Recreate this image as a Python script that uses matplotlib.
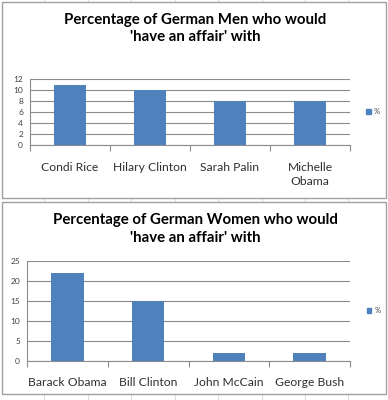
import matplotlib
matplotlib.use("Agg")
import matplotlib.pyplot as plt
from matplotlib.patches import Rectangle, Patch

men_names = ["Condi Rice", "Hilary Clinton", "Sarah Palin", "Michelle\nObama"]
men_pct = [11, 10, 8, 8]
women_names = ["Barack Obama", "Bill Clinton", "John McCain", "George Bush"]
women_pct = [22, 15, 2, 2]

W, H = 388, 400
BAR = "#4F81BD"
GRID = "#8C8C8C"

plt.rcParams['font.family'] = ['Lato', 'DejaVu Sans']

fig = plt.figure(figsize=(W / 100, H / 100), dpi=100)
fig.patch.set_facecolor("white")


def fx(x):
    return x / W


def fy(y):
    return 1 - y / H


# spreadsheet grid peeking out behind the chart panels
for x in [43.5, 87.5, 131, 175, 218, 262, 305, 348]:
    fig.add_artist(plt.Line2D([fx(x), fx(x)], [0, 1], color="#DADCDD", lw=0.8, zorder=-3))
for (x0, y0, x1, y1) in [(2, 2, 386, 197.5), (2, 201.5, 386, 394)]:
    fig.add_artist(Rectangle((fx(x0), fy(y1)), fx(x1) - fx(x0), fy(y0) - fy(y1),
                             facecolor="white", edgecolor="#A0A0A0", lw=1.0, zorder=-2))


def draw_chart(rect, names, vals, ymax, step, title, ty):
    left, top, right, bottom = rect
    ax = fig.add_axes([fx(left), fy(bottom), fx(right) - fx(left), fy(top) - fy(bottom)])
    ax.patch.set_alpha(0)
    ax.bar(range(len(vals)), vals, width=0.4, color=BAR, zorder=3, label="%")
    ax.set_xlim(-0.5, len(vals) - 0.5)
    ax.set_ylim(0, ymax)
    ax.set_yticks(range(0, ymax + 1, step))
    ax.yaxis.grid(True, color=GRID, lw=0.8)
    ax.set_axisbelow(True)
    for s in ["top", "right"]:
        ax.spines[s].set_visible(False)
    for s in ["left", "bottom"]:
        ax.spines[s].set_color(GRID)
        ax.spines[s].set_linewidth(0.8)
    ax.set_xticks([i - 0.5 for i in range(len(vals) + 1)])
    ax.set_xticklabels([])
    ax.set_xticks(range(len(vals)), minor=True)
    ax.set_xticklabels(names, minor=True, fontsize=8.7, color="#303030", linespacing=1.4)
    ax.tick_params(axis="x", which="major", length=4, color=GRID, direction="out")
    ax.tick_params(axis="x", which="minor", length=0, pad=12)
    ax.tick_params(axis="y", length=0, labelsize=6, labelcolor="#404040", pad=5)
    ax.legend(handles=[Patch(color=BAR, label="%")], loc="center left",
              bbox_to_anchor=(1.03, 0.5), frameon=False, fontsize=5.5,
              handlelength=0.6, handleheight=0.6, handletextpad=0.4,
              labelcolor="#404040")
    fig.text(fx(195), fy(ty), title, ha="center", va="center",
             fontsize=10.8, fontweight="bold", linespacing=1.3)
    return ax


draw_chart((30, 79, 350, 145), men_names, men_pct, 12, 2,
           "Percentage of German Men who would\n'have an affair' with", 28.5)
draw_chart((27, 260.7, 350, 360.7), women_names, women_pct, 25, 5,
           "Percentage of German Women who would\n'have an affair' with", 229)

fig.savefig("out.png", dpi=100, facecolor=fig.get_facecolor())
